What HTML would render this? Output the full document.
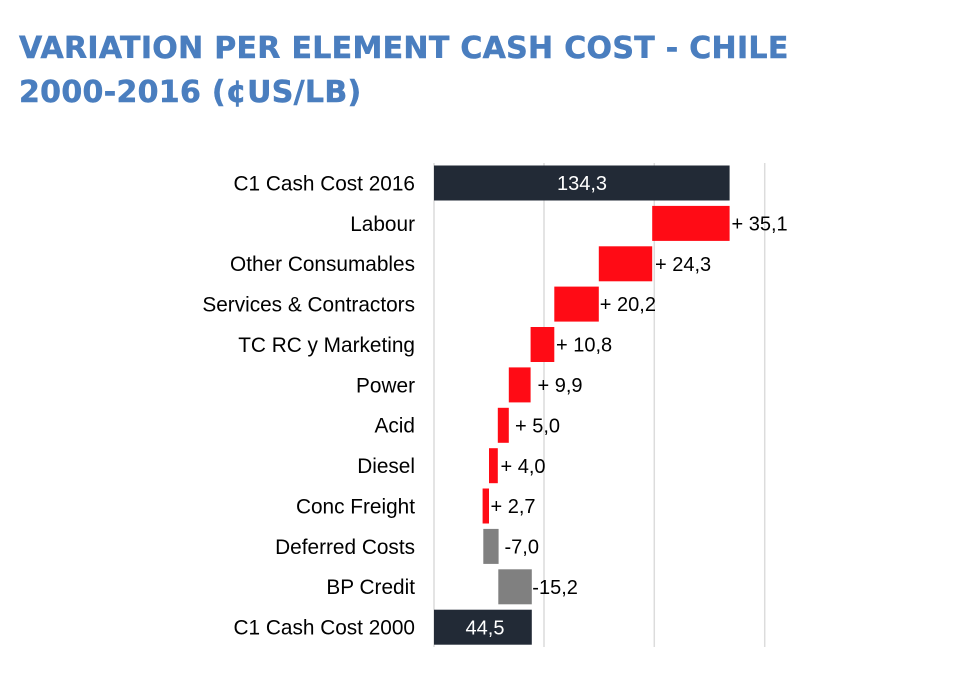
<!DOCTYPE html>
<html>
<head>
<meta charset="utf-8">
<style>
  html,body{margin:0;padding:0;background:#fff;}
  body{width:975px;height:685px;overflow:hidden;position:relative;}
  .title{position:absolute;left:19px;top:27px;font-family:"DejaVu Sans",Verdana,sans-serif;font-weight:bold;font-size:30px;line-height:44px;letter-spacing:0.3px;color:#4a7ebf;-webkit-text-stroke:0.5px #4a7ebf;white-space:nowrap;}
  svg{position:absolute;left:0;top:0;}
  text{font-family:"Liberation Sans",Arial,sans-serif;}
</style>
</head>
<body>
<div class="title">VARIATION PER ELEMENT CASH COST - CHILE<br>2000-2016 (¢US/LB)</div>
<svg width="975" height="685" viewBox="0 0 975 685">
  <!-- gridlines -->
  <g stroke="#dcdcdc" stroke-width="1.5">
    <line x1="434" y1="163" x2="434" y2="647"/>
    <line x1="544" y1="163" x2="544" y2="647"/>
    <line x1="654.3" y1="163" x2="654.3" y2="647"/>
    <line x1="764.7" y1="163" x2="764.7" y2="647"/>
  </g>
  <!-- bars -->
  <rect x="434" y="165.5" width="295.6" height="35" fill="#222a36"/>
  <rect x="652.2" y="205.9" width="77.4" height="35" fill="#ff0b15"/>
  <rect x="598.8" y="246.3" width="53.4" height="35" fill="#ff0b15"/>
  <rect x="554.3" y="286.6" width="44.5" height="35" fill="#ff0b15"/>
  <rect x="530.6" y="327" width="23.7" height="35" fill="#ff0b15"/>
  <rect x="508.8" y="367.4" width="21.8" height="35" fill="#ff0b15"/>
  <rect x="497.8" y="407.8" width="11" height="35" fill="#ff0b15"/>
  <rect x="489" y="448.2" width="8.8" height="35" fill="#ff0b15"/>
  <rect x="482.6" y="488.5" width="6.4" height="35" fill="#ff0b15"/>
  <rect x="483.3" y="528.9" width="15.3" height="35" fill="#808080"/>
  <rect x="498.3" y="569.3" width="33.5" height="35" fill="#808080"/>
  <rect x="434" y="609.7" width="97.8" height="35" fill="#222a36"/>

  <!-- category labels -->
  <g font-size="20.8" fill="#000" text-anchor="end">
    <text x="415" y="190.4">C1 Cash Cost 2016</text>
    <text x="415" y="230.8">Labour</text>
    <text x="415" y="271.2">Other Consumables</text>
    <text x="415" y="311.5">Services &amp; Contractors</text>
    <text x="415" y="351.9">TC RC y Marketing</text>
    <text x="415" y="392.3">Power</text>
    <text x="415" y="432.7">Acid</text>
    <text x="415" y="473.1">Diesel</text>
    <text x="415" y="513.4">Conc Freight</text>
    <text x="415" y="553.8">Deferred Costs</text>
    <text x="415" y="594.2">BP Credit</text>
    <text x="415" y="634.6">C1 Cash Cost 2000</text>
  </g>

  <!-- value labels -->
  <g font-size="20" fill="#000">
    <text x="731.5" y="230.5">+ 35,1</text>
    <text x="655" y="270.9">+ 24,3</text>
    <text x="599.8" y="311.2">+ 20,2</text>
    <text x="556" y="351.6">+ 10,8</text>
    <text x="537.5" y="392">+ 9,9</text>
    <text x="515" y="432.4">+ 5,0</text>
    <text x="500.5" y="472.8">+ 4,0</text>
    <text x="490.5" y="513.1">+ 2,7</text>
    <text x="504.5" y="553.5">-7,0</text>
    <text x="532.3" y="593.9">-15,2</text>
  </g>
  <g font-size="20" fill="#fff" text-anchor="middle">
    <text x="582" y="190.2">134,3</text>
    <text x="485" y="634.4">44,5</text>
  </g>
</svg>
</body>
</html>
